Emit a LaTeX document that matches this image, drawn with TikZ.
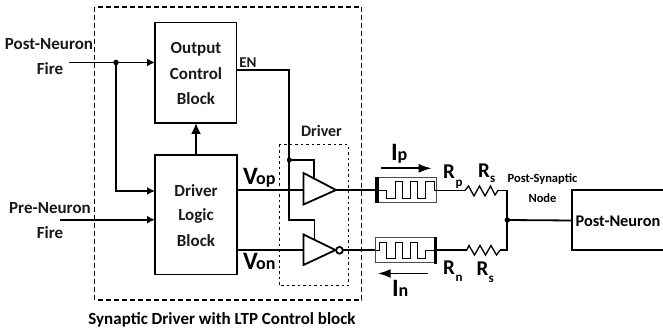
\documentclass[tikz,border=0pt]{standalone}
\usepackage{fontspec}
\setmainfont{Carlito}
\usetikzlibrary{arrows.meta}
\tikzset{
  wire/.style={line width=1.8pt},
  lbl/.style={font=\bfseries\fontsize{17}{17}\selectfont,inner sep=0pt,text=black!90},
  biglbl/.style={font=\bfseries\fontsize{25}{25}\selectfont,inner sep=0pt,anchor=base west},
  rlbl/.style={font=\bfseries\fontsize{21}{21}\selectfont,inner sep=0pt,anchor=base west},
  sublbl/.style={font=\bfseries\fontsize{18}{18}\selectfont,inner sep=0pt,anchor=base west},
  smallsub/.style={font=\bfseries\fontsize{13}{13}\selectfont,inner sep=0pt,anchor=base west},
  arr/.style={wire,-{Latex[length=8pt,width=8pt]}},
  dotn/.style={circle,fill=black,inner sep=0pt,minimum size=5.5pt},
  memr/.style={draw=black!70,line width=1pt},
  wave/.style={line width=1pt},
  bar/.style={line width=3.2pt},
  zig/.style={line width=1.3pt,line join=miter}
}
\begin{document}
\begin{tikzpicture}[x=1pt,y=-1pt]
\useasboundingbox (0,0) rectangle (663,328);
% enclosures
\draw[line width=1.8pt,dash pattern=on 5pt off 3pt] (94.5,7) rectangle (361.5,300);
\draw[line width=1pt,dash pattern=on 2.5pt off 3pt] (279,145) rectangle (348,286);
% blocks
\draw[line width=1.8pt] (155,22.5) rectangle (236.5,123);
\draw[line width=1.8pt] (155,155) rectangle (237,274.5);
\coordinate (ocbW) at (155,62.5);
\coordinate (dlbNW) at (155,191);
\coordinate (dlbW) at (155,219.7);
\coordinate (ocbS) at (196,123);
\coordinate (dlbN) at (196,155);
% inputs
\coordinate (postIn) at (69,62.5);
\coordinate (preIn) at (60,219.7);
\node[dotn] (split) at (116,62.5) {};
\draw[arr] (postIn) -- (ocbW);
\draw[arr] (split.center) |- (dlbNW);
\draw[arr] (preIn) -- (dlbW);
\draw[wire,-{Latex[length=11pt,width=10pt]}] (dlbN) -- (ocbS);
% EN
\node[dotn,minimum size=5pt] (en) at (289.3,160) {};
\draw[wire] (236.5,70) -- (289.3,70) -- (289.3,220) -- (314.5,220) -- (314.5,239);
\draw[wire] (en.center) -- (314,160) -- (314,179);
% drivers
\draw[wire,fill=white] (303.5,173) -- (336,190) -- (303.5,204.5) -- cycle;
\draw[wire,fill=white] (303.5,234.5) -- (335.5,250) -- (303.5,265) -- cycle;
\draw[wire,fill=white] (339.5,250.3) circle (3.4);
\draw[wire] (237,190.3) -- (303.5,190.3);
\draw[wire] (237,250.3) -- (303.5,250.3);
\draw[wire] (336,190.3) -- (377,190.3);
\draw[wire] (343,250.3) -- (376,250.3);
% memristor top
\draw[memr] (375.7,177.7) rectangle (436.7,202.7);
\draw[bar] (377,177) -- (377,203.5);
\draw[wave] (377,190.3) -- (386.7,190.3) -- (386.7,198.5) -- (395,198.5) -- (395,181.7) -- (402.3,181.7) -- (402.3,198.5) -- (410,198.5) -- (410,181.7) -- (417.7,181.7) -- (417.7,198.5) -- (425.7,198.5) -- (425.7,181.7) -- (434,181.7) -- (434,190.3) -- (436.7,190.3);
% memristor bottom
\draw[memr] (375.7,237.7) rectangle (436.7,263);
\draw[bar] (435.5,237) -- (435.5,264);
\draw[wave] (375.7,250.3) -- (379,250.3) -- (379,242.3) -- (386.7,242.3) -- (386.7,259) -- (395,259) -- (395,242.3) -- (402.3,242.3) -- (402.3,259) -- (410,259) -- (410,242.3) -- (417.7,242.3) -- (417.7,259) -- (425.7,259) -- (425.7,250.3) -- (435.5,250.3);
% right side wires and resistors
\node[dotn] (sum) at (507.3,220) {};
\draw[wire] (436.7,190.5) -- (465,190.5);
\draw[zig] (465,190.5) -- (468.5,186) -- (474,196) -- (479.5,186) -- (485,196) -- (490.5,186) -- (495,195) -- (498,190.5);
\draw[wire] (498,190.5) -- (507.3,190.5) -- (507.3,250.3) -- (500,250.3);
\draw[zig] (500,250.3) -- (496.5,255) -- (491,245.5) -- (485.5,255) -- (480,245.5) -- (474.5,255) -- (469,245.5) -- (466.7,250.3);
\draw[wire] (466.7,250.3) -- (437,250.3);
\draw[wire] (sum.center) -- (571.7,220.5);
\draw[line width=1.8pt] (664,190) -- (571.7,190) -- (571.7,250) -- (664,250);
% current arrows
\draw[wire,-{Latex[length=13pt,width=9pt]}] (381,168.3) -- (431.7,168.3);
\draw[wire,-{Latex[length=13pt,width=9pt]}] (428,273.5) -- (377.7,273.5);
% labels
\node[lbl] (post) at (49,44) {Post-Neuron};
\node[lbl] (postF) at (50,69) {Fire};
\node[lbl] (pre) at (50,208) {Pre-Neuron};
\node[lbl] (preF) at (50,233) {Fire};
\node[lbl] (ocb1) at (196,49) {Output};
\node[lbl] (ocb2) at (196,74) {Control};
\node[lbl] (ocb3) at (196,99) {Block};
\node[lbl] (dl1) at (196,191) {Driver};
\node[lbl] (dl2) at (196,216) {Logic};
\node[lbl] (dl3) at (196,241) {Block};
\node[lbl,font=\bfseries\fontsize{15}{15}\selectfont] (enl) at (248,63) {EN};
\node[lbl,font=\bfseries\fontsize{16}{16}\selectfont] (drv) at (321.5,131) {Driver};
\node[biglbl] (vo) at (243,185) {V};
\node[sublbl] (vop) at (256,185) {op};
\node[biglbl] (vn) at (243,270) {V};
\node[sublbl] (von) at (256,270) {on};
\node[biglbl] (ip) at (391,161) {I};
\node[sublbl] (ips) at (397.5,161) {p};
\node[biglbl] (in) at (392,297) {I};
\node[sublbl] (ins) at (398.5,297) {n};
\node[rlbl] (rp) at (443,179) {R};
\node[smallsub] (rps) at (455.5,187) {p};
\node[rlbl] (rs1) at (478,178) {R};
\node[smallsub] (rs1s) at (490,183) {s};
\node[rlbl] (rn) at (443,275) {R};
\node[smallsub] (rns) at (455.5,282) {n};
\node[rlbl] (rs2) at (476.5,276) {R};
\node[smallsub] (rs2s) at (488.5,283) {s};
\node[font=\bfseries\fontsize{12.5}{12.5}\selectfont,inner sep=0pt] (psn1) at (542.5,179) {Post-Synaptic};
\node[font=\bfseries\fontsize{12.5}{12.5}\selectfont,inner sep=0pt] (psn2) at (542.5,198) {Node};
\node[font=\bfseries\fontsize{16.3}{16.3}\selectfont,inner sep=0pt] (pn) at (618,221) {Post-Neuron};
\node[font=\bfseries\fontsize{17}{17}\selectfont,inner sep=0pt] (cap) at (222,320) {Synaptic Driver with LTP Control block};
\end{tikzpicture}
\end{document}
